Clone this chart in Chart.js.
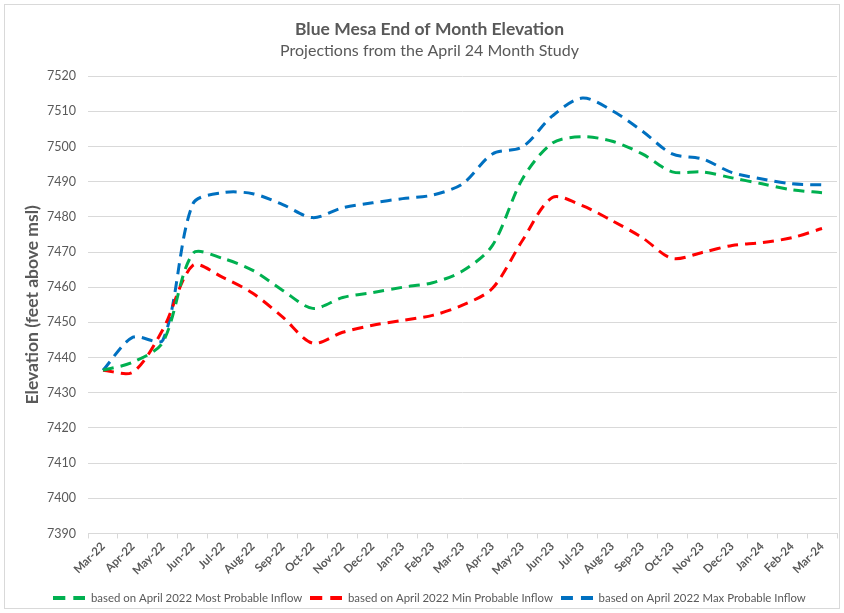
<!DOCTYPE html>
<html>
<head>
<meta charset="utf-8">
<script src="https://cdn.jsdelivr.net/npm/chart.js@4/dist/chart.umd.min.js"></script>
<style>
  html, body { margin: 0; padding: 0; background: #fff; }
  #wrap { position: absolute; left: 4px; top: 4px; width: 834px; height: 603px; border: 1px solid #d9d9d9; }
</style>
</head>
<body>
<div id="wrap"><canvas id="elev"></canvas></div>
<script>
const months = ['Mar-22', 'Apr-22', 'May-22', 'Jun-22', 'Jul-22', 'Aug-22', 'Sep-22', 'Oct-22', 'Nov-22', 'Dec-22', 'Jan-23', 'Feb-23', 'Mar-23',
  'Apr-23', 'May-23', 'Jun-23', 'Jul-23', 'Aug-23', 'Sep-23', 'Oct-23', 'Nov-23', 'Dec-23', 'Jan-24', 'Feb-24', 'Mar-24']

const mostProbable = [7436.4, 7438.7, 7444.4, 7469.6, 7468.2, 7464.8, 7459.1, 7454.0, 7457.1, 7458.5, 7460.0, 7461.3, 7464.6,
  7471.9, 7490.8, 7501.0, 7502.8, 7501.5, 7497.9, 7492.8, 7492.8, 7491.1, 7489.4, 7487.7, 7486.9]
const minProbable = [7436.4, 7435.9, 7448.0, 7466.2, 7462.8, 7458.3, 7451.5, 7444.1, 7447.2, 7449.2, 7450.6, 7452.0, 7454.9,
  7459.7, 7473.3, 7485.5, 7483.2, 7478.9, 7474.1, 7468.2, 7469.9, 7471.9, 7472.7, 7474.1, 7476.7]
const maxProbable = [7436.4, 7445.8, 7445.0, 7483.7, 7486.9, 7486.6, 7483.5, 7479.8, 7482.6, 7484.0, 7485.2, 7486.2, 7489.4,
  7497.9, 7499.9, 7508.7, 7513.8, 7510.2, 7504.4, 7497.9, 7496.5, 7492.6, 7490.8, 7489.4, 7489.1]

const yMin = 7390
const yMax = 7520
const yStep = 10

const textColor = '#595959'
const gridColor = '#d9d9d9'

// little dashed swatch for the legend, like the excel one
const dashSwatch = (color) => {
  const c = document.createElement('canvas')
  c.width = 32
  c.height = 4
  const ctx = c.getContext('2d')
  ctx.fillStyle = color
  ctx.fillRect(0, 0, 12, 4)
  ctx.fillRect(20, 0, 12, 4)
  return c
}

const makeSeries = (label, data, color) => ({
  label: label,
  data: data,
  borderColor: color,
  backgroundColor: color,
  borderWidth: 3,
  borderDash: [11, 7],
  borderCapStyle: 'butt',
  pointRadius: 0,
  pointStyle: dashSwatch(color),
  tension: 0.3,
  fill: false,
})

const onPageLoad = () => {
  new Chart(document.getElementById('elev'), {
    type: 'line',
    data: {
      labels: months,
      datasets: [
        makeSeries('based on April 2022 Most Probable Inflow', mostProbable, '#00b050'),
        makeSeries('based on April 2022 Min Probable Inflow', minProbable, '#ff0000'),
        makeSeries('based on April 2022 Max Probable Inflow', maxProbable, '#0070c0'),
      ],
    },
    options: {
      responsive: true,
      maintainAspectRatio: false,
      animation: false,
      layout: { autoPadding: false, padding: { left: 17, right: 2, top: 10, bottom: -6 } },
      plugins: {
        title: {
          display: true,
          text: 'Blue Mesa End of Month Elevation',
          color: textColor,
          font: { family: 'Lato', size: 17.5, weight: 'bold' },
          padding: { top: 4, bottom: 1 },
        },
        subtitle: {
          display: true,
          text: 'Projections from the April 24 Month Study',
          color: textColor,
          font: { family: 'Lato', size: 16 },
          padding: { bottom: 16 },
        },
        legend: {
          position: 'bottom',
          labels: {
            color: textColor,
            font: { family: 'Lato', size: 11.4 },
            usePointStyle: true,
            pointStyleWidth: 32,
            padding: 8,
          },
        },
        tooltip: { enabled: false },
      },
      scales: {
        x: {
          offset: true,
          // rotated first label may hang left of the plot, like excel does
          afterFit: (scale) => {
            scale.height += 6
            scale.paddingLeft = 0
          },
          grid: {
            offset: true,
            drawOnChartArea: false,
            drawTicks: true,
            tickLength: 5,
            color: gridColor,
          },
          border: { color: gridColor },
          ticks: {
            color: textColor,
            font: { family: 'Lato', size: 11.5, weight: 'bold' },
            minRotation: 45,
            maxRotation: 45,
            autoSkip: false,
            padding: 1,
          },
        },
        y: {
          min: yMin,
          max: yMax,
          afterFit: (scale) => { scale.width = 66 },
          grid: { color: gridColor, drawTicks: false },
          border: { display: false },
          title: {
            display: true,
            text: 'Elevation (feet above msl)',
            color: textColor,
            font: { family: 'Lato', size: 17.5, weight: 'bold' },
            padding: { top: 0, bottom: 4 },
          },
          ticks: {
            stepSize: yStep,
            color: textColor,
            font: { family: 'Lato', size: 12.5 },
            padding: 12,
            callback: (v) => v,
          },
        },
      },
    },
  })
}

document.addEventListener('DOMContentLoaded', onPageLoad)
</script>
</body>
</html>
